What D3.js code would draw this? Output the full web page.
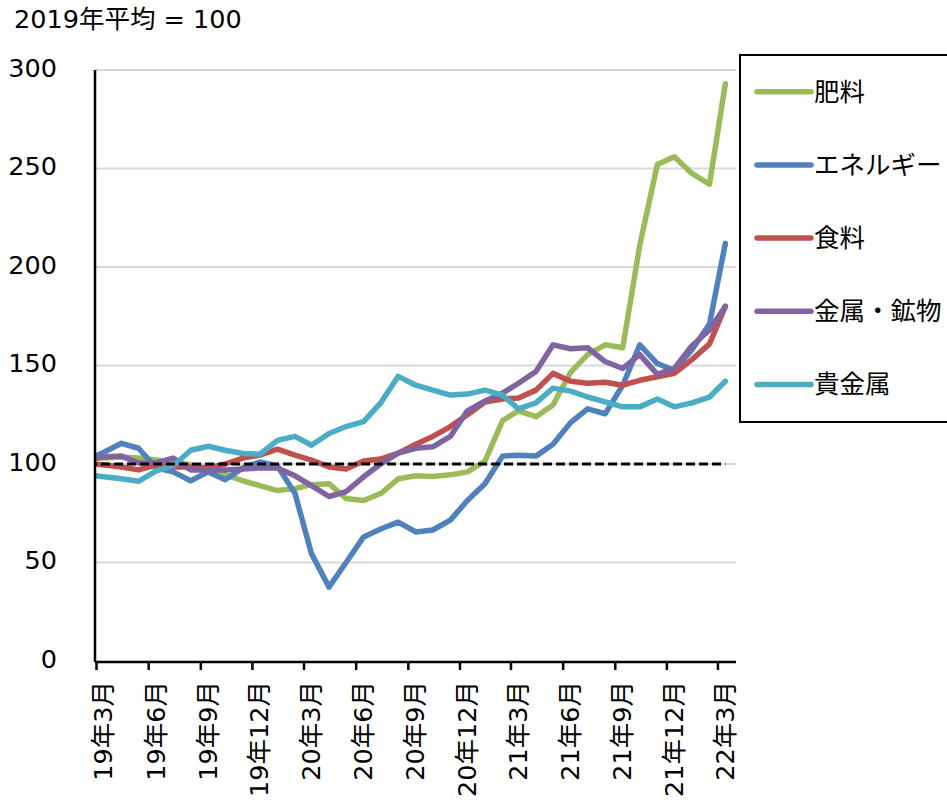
<!DOCTYPE html>
<html><head><meta charset="utf-8">
<script src="https://cdn.jsdelivr.net/npm/d3@7"></script>
<style>
html,body{margin:0;padding:0;background:#fff;}
text{font-family:"DejaVu Sans","Noto Sans CJK JP",sans-serif;fill:#000;}
</style></head>
<body>
<svg id="chart" width="947" height="802"></svg>
<script>
const months = ["2019-02","2019-03","2019-04","2019-05","2019-06","2019-07","2019-08","2019-09","2019-10","2019-11","2019-12",
"2020-01","2020-02","2020-03","2020-04","2020-05","2020-06","2020-07","2020-08","2020-09","2020-10","2020-11","2020-12",
"2021-01","2021-02","2021-03","2021-04","2021-05","2021-06","2021-07","2021-08","2021-09","2021-10","2021-11","2021-12",
"2022-01","2022-02","2022-03"];
const fertilizer = [103,103,103.5,103,102,101,99.5,97.5,94.5,91.5,89,86.5,87.5,89.5,90,82.5,81.5,85,92.5,94,93.7,94.5,96,101.5,122,127,124,130,146.5,155.5,160.5,159,211,252,256,247.5,242,293];
const energy = [102.5,106,110.5,108,98,96,91.5,96,92,98,101,99,85,54.5,37.5,50,63,67,70.5,65.5,66.5,71.5,81.5,90,104,104.5,104,110,121,128,125.5,140,160.5,151,147.5,158,171,212];
const food = [100.5,99.5,98.5,97,99.5,98.5,98.5,98,100,103,104.5,107.5,104.5,102,98.5,97.5,101.5,102.5,105.5,110,114,119,125,131.5,133,133.5,137.5,146,142,141,141.5,140,142.5,144.3,146,153,161,180];
const metals = [102.5,103.5,104,100.5,100.5,103,97,97,97,97.5,98,98,94,89,83.5,86,93.5,100,105.5,108,108.7,114,127,132,136,141,147,160.5,158.5,159,152,148.5,155.5,145.5,148.5,160,168,180];
const precious = [94.5,93.5,92.5,91.2,96.5,99,107,109,107,105.3,105,112,114,109.5,115.5,119,121.5,131,144.5,140,137.5,135,135.5,137.5,135,128,131,138.5,137,134,131.5,129,129,133,129,131,134,142];
const baseline = 100;
const seriesNames = ["肥料","エネルギー","食料","金属・鉱物","貴金属"];
const seriesColors = ["#9BBB59","#4F81BD","#C0504D","#8064A2","#4BACC6"];
const yTicks = [0,50,100,150,200,250,300];
const xTickMonths = ["2019-03","2019-06","2019-09","2019-12","2020-03","2020-06","2020-09","2020-12","2021-03","2021-06","2021-09","2021-12","2022-03"];
const xTickLabels = ["19年3月","19年6月","19年9月","19年12月","20年3月","20年6月","20年9月","20年12月","21年3月","21年6月","21年9月","21年12月","22年3月"];
const titleText = "2019年平均 = 100";

const svg = d3.select("#chart");
const parseMid = s => new Date(Date.UTC(+s.slice(0,4), +s.slice(5,7)-1, 15));
const parseStart = s => new Date(Date.UTC(+s.slice(0,4), +s.slice(5,7)-1, 1));

const x = d3.scaleUtc()
  .domain([new Date(Date.UTC(2019,2,1)), new Date(Date.UTC(2022,3,1))])
  .range([96, 735]);
const y = d3.scaleLinear().domain([0,300]).range([661,70]);

// title
svg.append("text").attr("x",14).attr("y",28).attr("font-size",25.5).text(titleText);

// gridlines
svg.append("g").selectAll("line").data(yTicks.filter(d=>d>0)).join("line")
  .attr("x1",95).attr("x2",736).attr("y1",d=>y(d)).attr("y2",d=>y(d))
  .attr("stroke","#d9d9d9").attr("stroke-width",2);

// clip
svg.append("clipPath").attr("id","plotclip").append("rect")
  .attr("x",96).attr("y",40).attr("width",660).attr("height",640);

const allSeries = [fertilizer, energy, food, metals, precious];
const line = d3.line().x((d,i)=>x(parseMid(months[i]))).y(d=>y(d));
const plot = svg.append("g").attr("clip-path","url(#plotclip)");
allSeries.forEach((vals,k)=>{
  plot.append("path").datum(vals)
    .attr("d",line).attr("fill","none")
    .attr("stroke",seriesColors[k]).attr("stroke-width",5.5)
    .attr("stroke-linejoin","round").attr("stroke-linecap","round");
});
// dashed baseline
plot.append("path").datum(months.map(()=>baseline))
  .attr("d",line).attr("fill","none").attr("stroke","#000")
  .attr("stroke-width",3).attr("stroke-dasharray","9,4");

// y axis
const yAxis = svg.append("g").attr("transform","translate(95,0)")
  .call(d3.axisLeft(y).tickValues(yTicks).tickSize(0).tickPadding(38).tickFormat(d3.format("d")));
yAxis.select(".domain").attr("stroke","#000").attr("stroke-width",2.5).attr("d","M0,70V662");
yAxis.selectAll("text").attr("font-size",25.5).attr("font-family",null).attr("dy","0.25em");

// x axis
const xAxis = svg.append("g").attr("transform","translate(0,662)")
  .call(d3.axisBottom(x).tickValues(xTickMonths.map(parseStart)).tickSize(8)
    .tickFormat((d,i)=>xTickLabels[i]));
xAxis.select(".domain").attr("stroke","#000").attr("stroke-width",2.5).attr("d","M95,0H736");
xAxis.selectAll(".tick line").attr("stroke","#000").attr("stroke-width",2.5);
xAxis.selectAll(".tick text")
  .attr("font-size",25.5).attr("font-family",null)
  .attr("text-anchor","end")
  .attr("transform","rotate(-90)")
  .attr("x",-19).attr("y",7).attr("dy","0.35em");

// legend
const lg = svg.append("g");
lg.append("rect").attr("x",740).attr("y",55).attr("width",220).attr("height",367)
  .attr("fill","#fff").attr("stroke","#000").attr("stroke-width",2);
seriesNames.forEach((nm,i)=>{
  const yy = 91.7 + 73.2*i;
  lg.append("line").attr("x1",757).attr("x2",811).attr("y1",yy).attr("y2",yy)
    .attr("stroke",seriesColors[i]).attr("stroke-width",5.5).attr("stroke-linecap","round");
  lg.append("text").attr("x",814).attr("y",yy).attr("dy","0.35em")
    .attr("font-size",25.5).text(nm);
});
</script>
</body></html>
